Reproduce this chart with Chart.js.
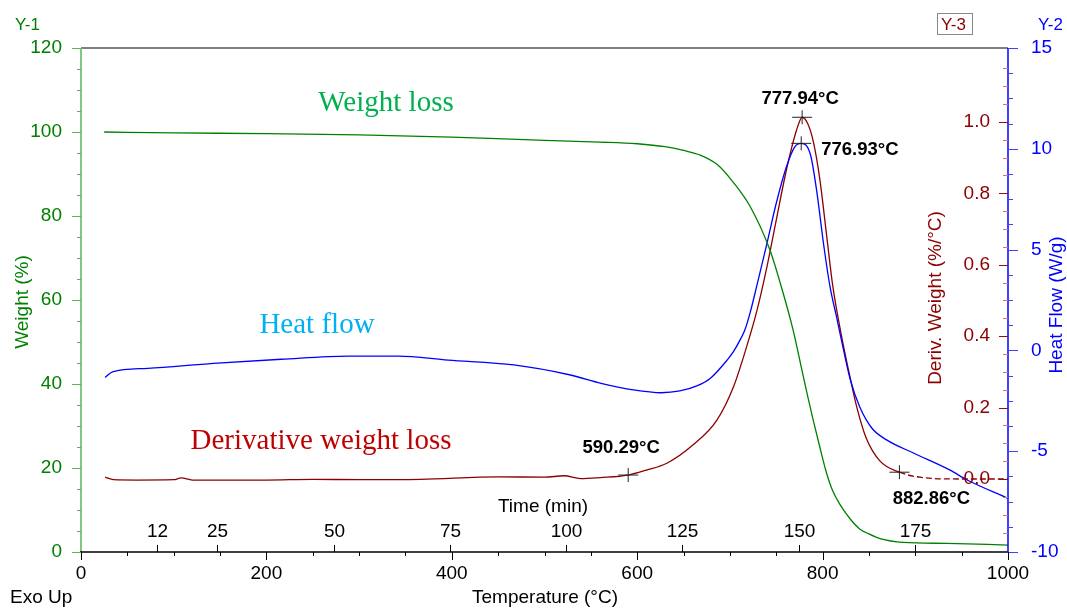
<!DOCTYPE html>
<html>
<head>
<meta charset="utf-8">
<script src="https://cdn.jsdelivr.net/npm/chart.js@4.4.1/dist/chart.umd.min.js"></script>
<style>
html,body{margin:0;padding:0;background:#fff;}
#wrap{width:1067px;height:608px;}
</style>
</head>
<body>
<div id="wrap"><canvas id="c" width="1067" height="608"></canvas></div>
<script>
// ---- data (temperature in °C) ----
const tempWeight = [25,100,200,300,400,500,560,600,630,650,668,686,703,722,743,755,768,778,784,790,797,804,811,819,830,840,850,862,887,934,1000];
const weightPct  = [100,99.8,99.6,99.3,98.8,98.0,97.6,97.2,96.5,95.6,94.5,92.3,88.2,82.2,72,63.5,53,43,37,31.3,25,19,14.5,11.2,7.8,5.5,4.3,3.2,2.3,2.05,1.65];

const tempDeriv  = [26,35,60,100,108,120,200,250,300,366,450,500,521,539,560,590,610,632,660,686,704,718,729,740,750,761,772,778,784,790,797,804,811,819,830,837,847,862,883,905,948,1000];
const derivWeight= [0.005,-0.002,-0.003,-0.002,0.003,-0.003,-0.003,-0.001,-0.002,-0.001,0.006,0.005,0.009,0.001,0.004,0.011,0.025,0.044,0.095,0.165,0.259,0.37,0.47,0.595,0.725,0.866,0.978,1.013,0.995,0.945,0.84,0.69,0.54,0.42,0.28,0.20,0.115,0.05,0.019,0.005,0.0,0.0];

const tempHeat   = [26,34,72,143,216,288,342,396,467,528,561,596,626,646,665,679,697,704,711,716,722,729,740,750,761,770,777,787,794,801,808,815,822,830,840,853,869,898,937,956,1000];
const heatFlow   = [-1.34,-1.06,-0.89,-0.64,-0.44,-0.28,-0.28,-0.48,-0.72,-1.22,-1.63,-1.96,-2.1,-2.01,-1.75,-1.38,-0.48,-0.05,0.52,1.0,1.9,3.2,5.31,7.3,9.11,10.1,10.27,9.69,7.79,5.29,3.16,1.67,0.15,-1.47,-2.8,-3.85,-4.44,-5.09,-5.93,-6.43,-7.34];

const tempTicks   = [0,200,400,600,800,1000];
const weightTicks = [0,20,40,60,80,100,120];
const heatTicks   = [-10,-5,0,5,10,15];
const derivTicks  = [0.0,0.2,0.4,0.6,0.8,1.0];
const timeTicks   = [12,25,50,75,100,125,150,175];

const derivMarkTemps = [590.29,777.94,882.86];
const derivMarkVals  = [0.011,1.013,0.019];
const heatMarkTemps  = [776.93];
const heatMarkVals   = [10.27];

const dashFrom = 882.86;

const pts = (xs, ys) => xs.map((t, i) => ({x: t, y: ys[i]}));

Chart.defaults.font.family = "'Liberation Sans', Arial, sans-serif";

const GREEN = '#008000', BLUE = '#0000ff', DRED = '#8b0000';

const deco = {
  id: 'deco',
  afterDraw(chart) {
    const {ctx, chartArea: a} = chart;
    const xs = chart.scales.x, y = chart.scales.y, y2 = chart.scales.y2, y3 = chart.scales.y3, xt = chart.scales.xt;
    ctx.save();
    const line = (x1, y1, x2, y2_, col, w) => {
      ctx.beginPath(); ctx.strokeStyle = col; ctx.lineWidth = w || 1;
      ctx.moveTo(x1, y1); ctx.lineTo(x2, y2_); ctx.stroke();
    };
    // frame
    line(a.left, a.top, a.right, a.top, '#808080', 2);
    line(a.left, a.top, a.left, a.bottom, '#80c880', 2);
    line(a.left - 1, a.bottom, a.right, a.bottom, '#000', 1.5);
    line(a.right, a.top, a.right, a.bottom, BLUE, 1.5);
    // left ticks
    for (let v = 0; v <= 120; v += 5) {
      const p = Math.round(y.getPixelForValue(v)) + 0.5;
      line(a.left - (v % 20 === 0 ? 9 : 4), p, a.left, p, '#60b060', 1);
    }
    // Y-2 ticks
    for (let v = -10; v <= 15; v += 1.25) {
      const p = Math.round(y2.getPixelForValue(v)) + 0.5;
      line(a.right, p, a.right + (v % 5 === 0 ? 10 : 5), p, '#4040ff', 1);
    }
    // Y-3 ticks
    for (let k = -3; k <= 23; k++) {
      const v = k * 0.05;
      const p = Math.round(y3.getPixelForValue(v)) + 0.5;
      const major = k % 4 === 0;
      line(a.right - (major ? 9 : 5), p, a.right, p, major ? '#8b1010' : '#c08080', 1);
    }
    // Y-3 labels
    ctx.font = "19px 'Liberation Sans', Arial, sans-serif";
    ctx.fillStyle = DRED; ctx.textAlign = 'right'; ctx.textBaseline = 'middle';
    derivTicks.forEach(v => ctx.fillText(v.toFixed(1), a.right - 18, y3.getPixelForValue(v)));
    // temperature ticks
    for (let t = 0; t <= 1000; t += 50) {
      const p = Math.round(xs.getPixelForValue(t)) + 0.5;
      line(p, a.bottom, p, a.bottom + (t % 200 === 0 ? 8 : 4), '#000', 1);
    }
    // time axis (inside plot)
    ctx.fillStyle = '#000'; ctx.textAlign = 'center'; ctx.textBaseline = 'middle';
    timeTicks.forEach(t => {
      const p = Math.round(xt.getPixelForValue(t)) + 0.5;
      line(p, a.bottom - 7, p, a.bottom, '#000', 1);
      ctx.fillText(String(t), p, a.bottom - 20);
    });
    ctx.fillText('Time (min)', 543, 507);
    // markers
    const cross = (px, py) => {
      line(px - 10, py, px + 10, py, '#222', 1);
      line(px, py - 7, px, py + 7, '#222', 1);
    };
    derivMarkTemps.forEach((t, i) => cross(xs.getPixelForValue(t), y3.getPixelForValue(derivMarkVals[i])));
    heatMarkTemps.forEach((t, i) => cross(xs.getPixelForValue(t), y2.getPixelForValue(heatMarkVals[i])));
    // marker labels
    ctx.font = "bold 18.5px 'Liberation Sans', Arial, sans-serif";
    ctx.fillStyle = '#000';
    const lbl = (t) => t.toFixed(2) + '°C';
    let px = xs.getPixelForValue(derivMarkTemps[0]), py = y3.getPixelForValue(derivMarkVals[0]);
    ctx.textAlign = 'center'; ctx.fillText(lbl(derivMarkTemps[0]), px - 7, py - 27);
    px = xs.getPixelForValue(derivMarkTemps[1]); py = y3.getPixelForValue(derivMarkVals[1]);
    ctx.fillText(lbl(derivMarkTemps[1]), px - 2, py - 18);
    px = xs.getPixelForValue(derivMarkTemps[2]); py = y3.getPixelForValue(derivMarkVals[2]);
    ctx.fillText(lbl(derivMarkTemps[2]), px + 32, py + 27);
    px = xs.getPixelForValue(heatMarkTemps[0]); py = y2.getPixelForValue(heatMarkVals[0]);
    ctx.textAlign = 'left'; ctx.fillText(lbl(heatMarkTemps[0]), px + 20, py + 7);
    // series captions
    ctx.font = "29px 'Liberation Serif', 'Times New Roman', serif";
    ctx.textAlign = 'center';
    ctx.fillStyle = '#00b050'; ctx.fillText('Weight loss', 386, 103);
    ctx.fillStyle = '#00b0f0'; ctx.fillText('Heat flow', 317, 325);
    ctx.fillStyle = '#c00000'; ctx.fillText('Derivative weight loss', 321, 441);
    // axis titles
    ctx.font = "19px 'Liberation Sans', Arial, sans-serif";
    const vtext = (s, x, yy, col) => {
      ctx.save(); ctx.translate(x, yy); ctx.rotate(-Math.PI / 2);
      ctx.fillStyle = col; ctx.textAlign = 'center'; ctx.textBaseline = 'middle';
      ctx.fillText(s, 0, 0); ctx.restore();
    };
    vtext('Weight (%)', 23, 302, GREEN);
    vtext('Deriv. Weight (%/°C)', 936, 298, DRED);
    vtext('Heat Flow (W/g)', 1057, 305, BLUE);
    ctx.fillStyle = '#000'; ctx.textAlign = 'center'; ctx.textBaseline = 'middle';
    ctx.fillText('Temperature (°C)', 545, 598);
    ctx.textAlign = 'left'; ctx.fillText('Exo Up', 10, 598);
    // corner labels
    ctx.font = "17px 'Liberation Sans', Arial, sans-serif";
    ctx.fillStyle = GREEN; ctx.fillText('Y-1', 15, 25);
    ctx.fillStyle = BLUE; ctx.fillText('Y-2', 1038, 25);
    ctx.fillStyle = DRED; ctx.fillText('Y-3', 941, 25);
    ctx.strokeStyle = '#888'; ctx.lineWidth = 1;
    ctx.strokeRect(937.5, 13.5, 35, 21);
    ctx.restore();
  }
};

new Chart(document.getElementById('c'), {
  type: 'line',
  data: {
    datasets: [
      { label: 'Weight', data: pts(tempWeight, weightPct), xAxisID: 'x', yAxisID: 'y',
        borderColor: '#008000', borderWidth: 1.3, pointRadius: 0, fill: false, cubicInterpolationMode: 'monotone' },
      { label: 'Heat Flow', data: pts(tempHeat, heatFlow), xAxisID: 'x', yAxisID: 'y2',
        borderColor: '#0000ff', borderWidth: 1.3, pointRadius: 0, fill: false, cubicInterpolationMode: 'monotone' },
      { label: 'Deriv. Weight', data: pts(tempDeriv, derivWeight), xAxisID: 'x', yAxisID: 'y3',
        borderColor: '#8b0000', borderWidth: 1.3, pointRadius: 0, fill: false, cubicInterpolationMode: 'monotone',
        segment: { borderDash: c => c.p0.parsed.x >= dashFrom ? [6, 3] : undefined } }
    ]
  },
  options: {
    responsive: false,
    animation: false,
    devicePixelRatio: 1,
    layout: { padding: { top: 48, left: 0, right: 0, bottom: 0 } },
    plugins: { legend: { display: false }, tooltip: { enabled: false } },
    scales: {
      x: {
        type: 'linear', position: 'bottom', min: 0, max: 1000,
        afterFit: s => { s.height = 56; },
        afterBuildTicks: s => { s.ticks = tempTicks.map(v => ({value: v})); },
        ticks: { color: '#000', font: { size: 19 }, padding: 10, maxRotation: 0, autoSkip: false,
                 callback: v => String(v) },
        grid: { display: false, drawTicks: false },
        border: { display: false }
      },
      xt: {
        type: 'linear', axis: 'x', position: 'top', display: false, min: -4.3, max: 195
      },
      y: {
        position: 'left', min: 0, max: 120,
        afterFit: s => { s.width = 81; },
        afterBuildTicks: s => { s.ticks = weightTicks.map(v => ({value: v})); },
        ticks: { color: GREEN, font: { size: 19 }, padding: 19, callback: v => String(v) },
        grid: { display: false, drawTicks: false },
        border: { display: false }
      },
      y2: {
        position: 'right', min: -10, max: 15,
        afterFit: s => { s.width = 59; },
        afterBuildTicks: s => { s.ticks = heatTicks.map(v => ({value: v})); },
        ticks: { color: BLUE, font: { size: 19 }, padding: 23, callback: v => String(v) },
        grid: { display: false, drawTicks: false },
        border: { display: false }
      },
      y3: {
        position: 'right', display: false, min: -0.2045, max: 1.207
      }
    }
  },
  plugins: [deco]
});
</script>
</body>
</html>
